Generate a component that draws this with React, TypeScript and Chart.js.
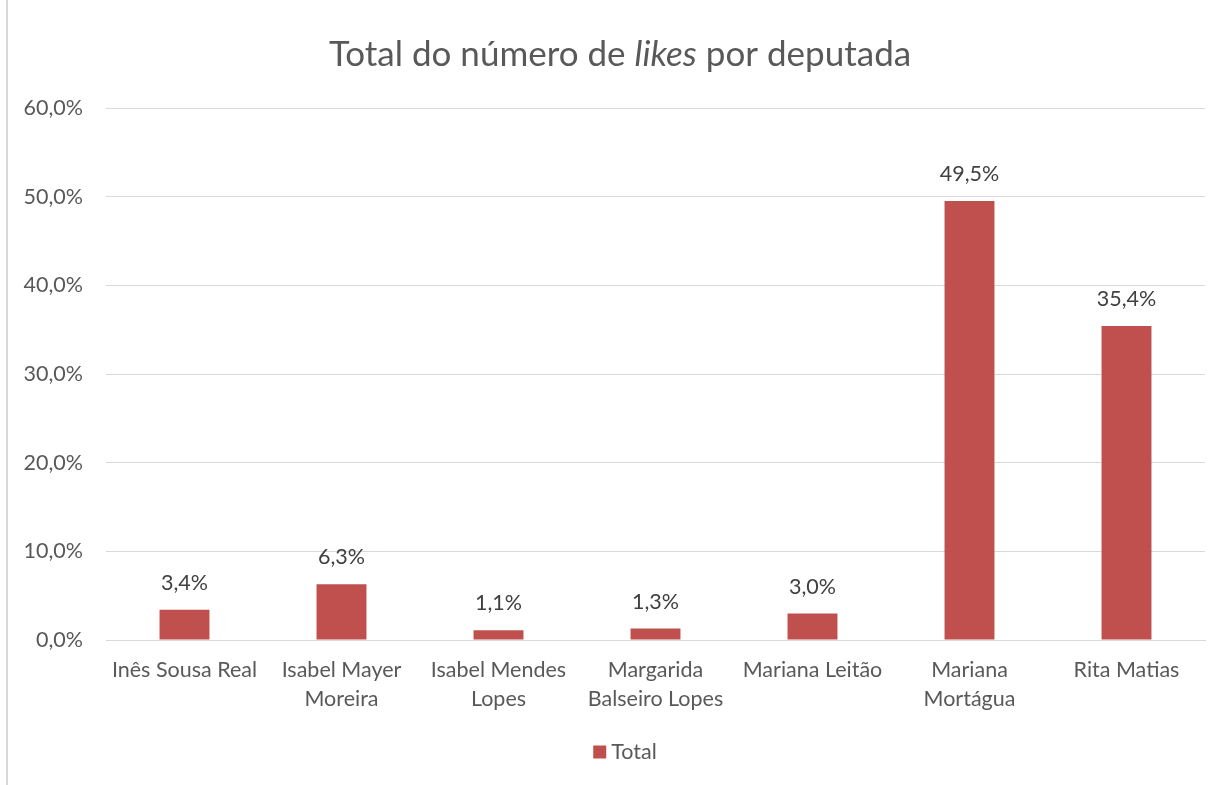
import React, { useEffect, useRef } from "react";
import { Chart, registerables } from "chart.js";

Chart.register(...registerables);

const categories: (string | string[])[] = [
  "Inês Sousa Real",
  ["Isabel Mayer", "Moreira"],
  ["Isabel Mendes", "Lopes"],
  ["Margarida", "Balseiro Lopes"],
  "Mariana Leitão",
  ["Mariana", "Mortágua"],
  "Rita Matias",
];
const totalValues = [3.4, 6.3, 1.1, 1.3, 3.0, 49.5, 35.4];
const seriesName = "Total";
const titleParts = [
  { text: "Total do número de ", italic: false },
  { text: "likes", italic: true },
  { text: " por deputada", italic: false },
];

const FONT = "Lato, 'Open Sans', sans-serif";
const TEXT = "#595959";
const BAR = "#C0504D";
const GRID = "#D9D9D9";
const FS = 21.5;

const fmt = (v: number) => v.toFixed(1).replace(".", ",") + "%";

const titlePlugin = {
  id: "richTitle",
  afterDraw(chart: any) {
    const ctx = chart.ctx;
    ctx.save();
    ctx.fillStyle = TEXT;
    ctx.textBaseline = "middle";
    ctx.textAlign = "left";
    const size = 35;
    let total = 0;
    const widths = titleParts.map((p) => {
      ctx.font = `${p.italic ? "italic " : ""}${size}px ${FONT}`;
      const w = ctx.measureText(p.text).width;
      total += w;
      return w;
    });
    let x = 620 - total / 2;
    titleParts.forEach((p, i) => {
      ctx.font = `${p.italic ? "italic " : ""}${size}px ${FONT}`;
      ctx.fillText(p.text, x, 55);
      x += widths[i];
    });
    ctx.restore();
  },
};

const legendPlugin = {
  id: "customLegend",
  afterDraw(chart: any) {
    const ctx = chart.ctx;
    const ds = chart.data.datasets[0];
    ctx.save();
    ctx.font = `${FS}px ${FONT}`;
    const tw = ctx.measureText(ds.label).width;
    const box = 13;
    const gap = 5;
    const totalW = box + gap + tw;
    const cx = 625;
    const cy = 752;
    const x0 = cx - totalW / 2;
    ctx.fillStyle = ds.backgroundColor;
    ctx.fillRect(x0, cy - box / 2, box, box);
    ctx.fillStyle = TEXT;
    ctx.textBaseline = "middle";
    ctx.textAlign = "left";
    ctx.fillText(ds.label, x0 + box + gap, cy);
    ctx.restore();
  },
};

const labelPlugin = {
  id: "valueLabels",
  afterDatasetsDraw(chart: any) {
    const ctx = chart.ctx;
    ctx.save();
    ctx.fillStyle = "#404040";
    ctx.font = `${FS}px ${FONT}`;
    ctx.textAlign = "center";
    ctx.textBaseline = "bottom";
    const meta = chart.getDatasetMeta(0);
    meta.data.forEach((bar: any, i: number) => {
      ctx.fillText(fmt(totalValues[i]), bar.x, bar.y - 16);
    });
    ctx.restore();
  },
};

export default function App() {
  const ref = useRef<HTMLCanvasElement>(null);
  useEffect(() => {
    if (!ref.current) return;
    const chart = new Chart(ref.current, {
      type: "bar",
      data: {
        labels: categories,
        datasets: [
          {
            label: seriesName,
            data: totalValues,
            backgroundColor: BAR,
            borderWidth: 0,
            barPercentage: 0.318,
            categoryPercentage: 1,
          },
        ],
      },
      options: {
        animation: false,
        responsive: false,
        maintainAspectRatio: false,
        layout: { padding: { top: 108, right: 18, bottom: 53, left: 0 } },
        plugins: {
          title: { display: false },
          tooltip: { enabled: false },
          legend: { display: false },
        },
        scales: {
          x: {
            grid: { display: false },
            border: { display: true, color: GRID, width: 1 },
            ticks: {
              color: TEXT,
              font: { family: FONT, size: FS, lineHeight: 1.35 },
              padding: 8,
              maxRotation: 0,
              autoSkip: false,
            },
            afterFit(scale: any) {
              scale.height = 92;
            },
          },
          y: {
            min: 0,
            max: 60,
            ticks: {
              stepSize: 10,
              color: TEXT,
              font: { family: FONT, size: FS },
              padding: 23,
              callback: (v: any) => fmt(Number(v)),
            },
            grid: { color: GRID, lineWidth: 1, drawTicks: false },
            border: { display: false },
            afterFit(scale: any) {
              scale.width = 106;
            },
          },
        },
      },
      plugins: [titlePlugin, labelPlugin, legendPlugin],
    });
    return () => chart.destroy();
  }, []);
  return (
    <div
      style={{
        position: "fixed",
        left: 0,
        top: 0,
        width: 1223,
        height: 785,
        background: "#fff",
      }}
    >
      <div
        style={{
          position: "absolute",
          left: 6,
          top: 0,
          width: 2,
          height: 785,
          background: GRID,
        }}
      />
      <canvas ref={ref} width={1223} height={785} style={{ position: "absolute", left: 0, top: 0 }} />
    </div>
  );
}
